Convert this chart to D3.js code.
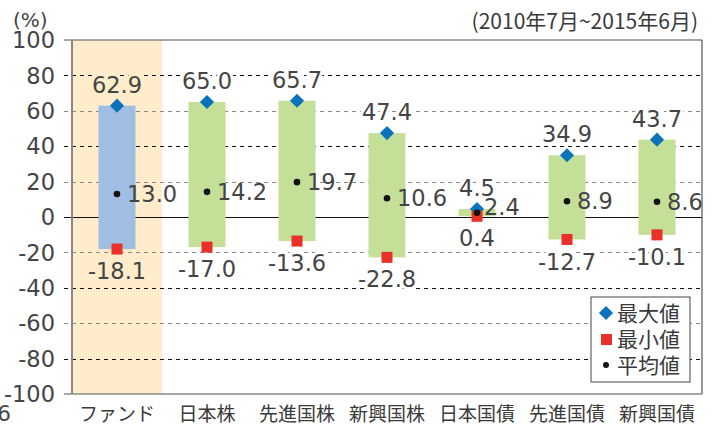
<!DOCTYPE html>
<meta charset="utf-8">
<style>
body{ margin:0; background:#fff; }
svg{ display:block; }
.num{ font-family:"DejaVu Sans", sans-serif; fill:#444; }
.jp{ font-family:"Noto Sans CJK JP", sans-serif; fill:#3a3a3a; }
</style>
<svg width="713" height="428"></svg>
<script src="https://d3js.org/d3.v7.min.js"></script>
<script>

var categories = ["ファンド", "日本株", "先進国株", "新興国株", "日本国債", "先進国債", "新興国債"];
var maxValues  = [62.9, 65.0, 65.7, 47.4, 4.5, 34.9, 43.7];
var minValues  = [-18.1, -17.0, -13.6, -22.8, 0.4, -12.7, -10.1];
var meanValues = [13.0, 14.2, 19.7, 10.6, 2.4, 8.9, 8.6];
var yTicks = [100, 80, 60, 40, 20, 0, -20, -40, -60, -80, -100];
var legendLabels = ["最大値", "最小値", "平均値"];

var svg = d3.select("svg");
var plotL = 72, plotR = 702, plotT = 40, plotB = 394;

var x = d3.scaleBand().domain(categories).range([plotL, plotR]);
var y = d3.scaleLinear().domain([-100, 100]).range([plotB, plotT]);

var beige = "#feecca";

// fund highlight band
svg.append("rect")
    .attr("x", x(categories[0])).attr("y", plotT)
    .attr("width", x.bandwidth()).attr("height", plotB - plotT)
    .attr("fill", beige);

// gridlines (dashed, alternating tone)
yTicks.forEach(function(t, i) {
  if (t === 100 || t === -100) return;
  svg.append("line")
      .attr("x1", plotL - 8).attr("x2", plotR)
      .attr("y1", Math.round(y(t)) + 0.5).attr("y2", Math.round(y(t)) + 0.5)
      .attr("stroke", t === 0 ? "#111" : (i % 2 ? "#111" : "#888"))
      .attr("stroke-width", 1.2)
      .attr("stroke-dasharray", t === 0 ? null : "4,4");
});

// frame
svg.append("line").attr("x1", plotL - 8).attr("x2", plotR).attr("y1", plotT).attr("y2", plotT)
    .attr("stroke", "#888").attr("stroke-width", 1.5);
svg.append("line").attr("x1", plotL - 8).attr("x2", plotR).attr("y1", plotB).attr("y2", plotB)
    .attr("stroke", "#888").attr("stroke-width", 1.5);
svg.append("line").attr("x1", plotL).attr("x2", plotL).attr("y1", plotT).attr("y2", plotB)
    .attr("stroke", "#888").attr("stroke-width", 2);
svg.append("line").attr("x1", plotR).attr("x2", plotR).attr("y1", plotT).attr("y2", plotB)
    .attr("stroke", "#333").attr("stroke-width", 1);

// y tick labels
svg.append("g").selectAll("text")
  .data(yTicks).enter().append("text")
    .attr("class", "num")
    .attr("x", 55).attr("y", function(d) { return y(d); })
    .attr("dy", "0.36em")
    .attr("text-anchor", "end")
    .attr("font-size", 22.5)
    .text(function(d) { return d; });

var bw = 37;
var cx = function(i) { return x(categories[i]) + x.bandwidth() / 2; };

// range bars
svg.append("g").selectAll("rect")
  .data(categories).enter().append("rect")
    .attr("x", function(d, i) { return cx(i) - bw / 2; })
    .attr("y", function(d, i) { return y(maxValues[i]); })
    .attr("width", bw)
    .attr("height", function(d, i) { return y(minValues[i]) - y(maxValues[i]); })
    .attr("fill", function(d, i) { return i === 0 ? "#a0bee3" : "#c4df98"; });

function halo(sel, i) {
  sel.attr("stroke", i === 0 ? beige : "#fff")
     .attr("stroke-width", 6)
     .attr("paint-order", "stroke");
}

// labels
categories.forEach(function(c, i) {
  var g = svg.append("g");
  g.append("text").attr("class", "num")
      .attr("x", cx(i)).attr("y", y(maxValues[i]) - 21).attr("dy", "0.36em")
      .attr("text-anchor", "middle").attr("font-size", 22.5)
      .call(halo, i)
      .text(maxValues[i].toFixed(1));
  g.append("text").attr("class", "num")
      .attr("x", cx(i)).attr("y", y(minValues[i]) + 22).attr("dy", "0.36em")
      .attr("text-anchor", "middle").attr("font-size", 22.5)
      .call(halo, i)
      .text(minValues[i].toFixed(1));
  g.append("text").attr("class", "num")
      .attr("x", cx(i) + (i === 4 ? 7 : 10))
      .attr("y", y(meanValues[i]) - (i === 4 ? 6 : 0)).attr("dy", "0.36em")
      .attr("text-anchor", "start").attr("font-size", 22.5)
      .text(meanValues[i].toFixed(1));
});

// markers
var diamond = d3.symbol().type(d3.symbolSquare).size(100);
svg.append("g").selectAll("path")
  .data(maxValues).enter().append("path")
    .attr("d", diamond)
    .attr("transform", function(d, i) { return "translate(" + cx(i) + "," + y(d) + ") rotate(45)"; })
    .attr("fill", "#0a72bb");
svg.append("g").selectAll("rect")
  .data(minValues).enter().append("rect")
    .attr("x", function(d, i) { return cx(i) - 5.5; })
    .attr("y", function(d) { return y(d) - 5.5; })
    .attr("width", 11).attr("height", 11)
    .attr("fill", "#e9312a");
svg.append("g").selectAll("circle")
  .data(meanValues).enter().append("circle")
    .attr("cx", function(d, i) { return cx(i); })
    .attr("cy", function(d) { return y(d); })
    .attr("r", 3.3)
    .attr("fill", "#111");

// x labels
svg.append("g").selectAll("text")
  .data(categories).enter().append("text")
    .attr("class", "jp")
    .attr("x", function(d, i) { return cx(i); })
    .attr("y", 421)
    .attr("text-anchor", "middle")
    .attr("font-size", 19)
    .text(function(d) { return d; });

// titles
svg.append("text").attr("class", "num").attr("x", 13).attr("y", 27)
    .attr("font-size", 20).text("(%)");
svg.append("text").attr("class", "jp").attr("x", 698).attr("y", 29)
    .attr("text-anchor", "end").attr("font-size", 21)
    .text("(2010年7月~2015年6月)");
svg.append("text").attr("class", "num").attr("x", 11).attr("y", 421)
    .attr("text-anchor", "end").attr("font-size", 22).text("6");

// legend
var lg = svg.append("g").attr("transform", "translate(591,297)");
lg.append("rect").attr("width", 99).attr("height", 85)
    .attr("fill", "#fff").attr("stroke", "#444").attr("stroke-width", 1);
legendLabels.forEach(function(l, i) {
  var yy = 16 + i * 26;
  if (i === 0) {
    lg.append("path").attr("d", diamond)
      .attr("transform", "translate(15," + yy + ") rotate(45)").attr("fill", "#0a72bb");
  } else if (i === 1) {
    lg.append("rect").attr("x", 10).attr("y", yy - 5).attr("width", 11).attr("height", 11)
      .attr("fill", "#e9312a");
  } else {
    lg.append("circle").attr("cx", 15).attr("cy", yy).attr("r", 3).attr("fill", "#111");
  }
  lg.append("text").attr("class", "jp").attr("x", 26).attr("y", yy)
    .attr("dy", "0.36em").attr("font-size", 21).text(l);
});

</script>
